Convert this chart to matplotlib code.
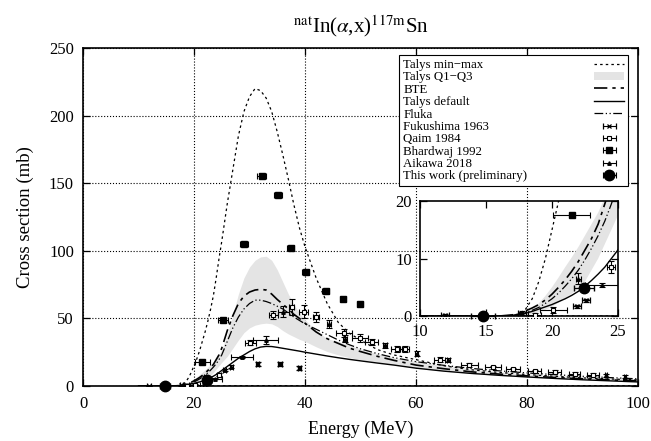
import numpy as np
import matplotlib
matplotlib.use('Agg')
import matplotlib.pyplot as plt
from matplotlib.patches import Patch
from matplotlib.lines import Line2D

plt.rcParams['font.family'] = 'serif'
plt.rcParams['font.serif'] = ['Liberation Serif', 'DejaVu Serif']
plt.rcParams['mathtext.fontset'] = 'stix'
for a in ('xtick', 'ytick'):
    plt.rcParams[a + '.direction'] = 'in'
    plt.rcParams[a + '.major.size'] = 5
    plt.rcParams[a + '.major.width'] = 0.9
    plt.rcParams[a + '.labelsize'] = 12
plt.rcParams['xtick.major.pad'] = 7.5
plt.rcParams['ytick.major.pad'] = 6.5
plt.rcParams['xtick.top'] = True
plt.rcParams['ytick.right'] = True

# ---- model curves (shared energy grid, MeV) ----
energy = [10, 15, 16, 17, 17.5, 18, 18.5, 19, 19.5, 20,
          20.5, 21, 21.5, 22, 22.5, 23, 23.5, 24, 24.5, 25,
          26, 27, 28, 29, 30, 31, 32, 33, 34, 35,
          36, 37, 38, 39, 40, 42, 44, 46, 48, 50,
          53, 56, 60, 65, 70, 75, 80, 85, 90, 95, 100]

talys_max = [0, 0, 0, 0.1, 0.4, 1.2, 3, 6, 10, 15,
             20, 26, 33, 40, 48, 57, 67, 80, 94, 107,
             135, 160, 185, 203, 214, 220, 218.5, 213, 203, 188,
             171, 153, 134, 117, 103, 80, 61, 47, 39, 34,
             27, 23, 19.5, 15, 12, 10, 8.5, 7.2, 6, 5.2, 4.5]

talys_min = [0, 0, 0, 0, 0, 0, 0, 0, 0, 0,
             0, 0, 0, 0, 0, 0, 0, 0, 0, 0.1,
             0.1, 0.1, 0.2, 0.2, 0.2, 0.2, 0.2, 0.2, 0.2, 0.2,
             0.2, 0.2, 0.2, 0.2, 0.2, 0.2, 0.2, 0.2, 0.2, 0.2,
             0.2, 0.2, 0.1, 0.1, 0.1, 0.1, 0.1, 0.1, 0.1, 0.1, 0.1]

talys_q1 = [0, 0, 0, 0, 0.1, 0.2, 0.4, 0.7, 1.1, 1.6,
            2.3, 3.1, 3.9, 4.7, 6, 8, 10, 12.5, 15, 17.5,
            22, 28, 34, 39.5, 43, 45, 46, 46.5, 46, 44,
            41, 38.5, 36.5, 34.5, 33, 29, 25.5, 23, 21, 19.5,
            17.5, 15.5, 13.5, 11.2, 9.3, 7.8, 6.5, 5.5, 4.7, 4, 3.5]

talys_q3 = [0, 0, 0, 0.1, 0.3, 0.6, 1.2, 2.2, 3.5, 5,
            6.7, 8.5, 10.2, 12, 14, 16, 18, 20.5, 23, 27,
            38, 53, 68, 80, 88, 93, 95.5, 96, 93, 86,
            77, 68, 60, 54, 49, 41, 35, 33, 30, 27.5,
            24, 21, 18, 15, 12.5, 10.5, 9, 7.8, 6.8, 6, 5.3]

bte = [0, 0, 0, 0.2, 0.5, 0.9, 1.4, 2, 2.8, 3.8,
       5, 6.3, 7.8, 9.5, 11.5, 13.5, 16, 19.5, 23, 28,
       41, 52, 61, 66.5, 69.5, 71, 71.5, 71, 68, 64,
       60.5, 57, 53, 50, 46.5, 40, 35, 31.5, 28, 25.5,
       22, 19, 15.5, 12.8, 10.5, 8.8, 7.5, 6.3, 5.3, 4.5, 3.8]

talys_default = [0, 0, 0, 0.1, 0.25, 0.5, 0.8, 1.2, 1.6, 2,
                 2.5, 3, 3.6, 4.3, 5.2, 6.2, 7.3, 8.5, 10, 11.5,
                 14.5, 17.5, 20.5, 23, 25.5, 27.5, 28.8, 29.3, 29.2, 28.6,
                 27.9, 27.2, 26.5, 25.8, 25, 23.6, 22.2, 20.9, 19.7, 18.6,
                 17, 15.5, 13.2, 11, 9.3, 7.9, 6.7, 5.6, 4.6, 3.8, 3]

fluka = [0, 0, 0, 0.1, 0.3, 0.6, 1, 1.5, 2.2, 3,
         4, 5.2, 6.5, 8, 9.8, 11.8, 14, 16.5, 19.5, 23,
         33, 43, 51, 57, 61, 63.5, 63.5, 62.5, 61, 59,
         57, 54, 51, 48.5, 46, 42, 38, 34, 30.5, 27.5,
         24, 21, 18, 15.3, 13, 11.2, 9.7, 8.4, 7.2, 6.2, 5.3]

# ---- experimental data ----
fuku_x = [11.9, 17.7, 21.9, 22.6, 31.5, 35.5, 39.0]
fuku_y = [0.1, 0.5, 1.7, 2.7, 16.5, 16.0, 13.0]
fuku_xerr = [0.3, 0.3, 0.3, 0.3, 0.3, 0.3, 0.3]
fuku_yerr = [0.2, 0.3, 0.3, 0.3, 1.5, 1.5, 1.5]

qaim_x = [18.7, 20.1, 24.5, 30.1, 34.3, 37.6, 39.8, 42.0, 47.0, 49.9, 52.0,
          56.5, 58.0, 64.3, 69.6, 73.9, 77.5, 81.4, 85.0, 88.6, 91.9]
qaim_y = [0.2, 1.0, 8.5, 32.0, 52.5, 58.5, 55.0, 51.0, 39.0, 35.3, 32.5,
          27.5, 27.5, 19.5, 15.5, 13.8, 12.3, 10.8, 10.6, 9.2, 8.4]
qaim_xerr = [0.5, 1.0, 0.3, 1.0, 0.8, 0.5, 0.8, 0.5, 1.5, 1.5, 1.2,
             1.0, 0.8, 1.0, 1.5, 1.5, 1.2, 1.2, 1.2, 1.0, 1.0]
qaim_yerr = [0.3, 0.5, 1.0, 2.0, 3.0, 6.0, 5.0, 4.0, 3.0, 3.0, 2.5,
             2.0, 2.0, 2.0, 1.5, 1.2, 1.0, 1.0, 1.0, 1.0, 1.0]

bhar_x = [21.5, 25.3, 29.0, 32.2, 35.2, 37.4, 40.1, 43.7, 46.9, 50.0]
bhar_y = [17.6, 48.8, 105.0, 155.5, 141.0, 101.8, 84.0, 70.3, 64.0, 60.6]
bhar_xerr = [1.4, 0.9, 0.8, 0.8, 0.7, 0.6, 0.6, 0.6, 0.5, 0.5]

aik_x = [22.0, 23.8, 25.5, 26.7, 28.6, 32.9, 36.1, 44.3, 47.2, 54.4, 60.1, 65.8, 94.3, 97.7]
aik_y = [6.5, 5.4, 11.8, 14.3, 21.5, 34.0, 55.0, 46.0, 35.0, 30.0, 24.0, 19.0, 8.0, 7.0]
aik_xerr = [0.2, 1.3, 0.3, 0.3, 2.0, 2.2, 1.0, 0.4, 0.4, 0.3, 0.3, 0.3, 0.2, 0.2]
aik_yerr = [1.0, 0.4, 1.0, 1.0, 1.0, 3.0, 4.0, 3.0, 2.5, 2.0, 2.0, 1.5, 1.0, 1.0]

tw_x = [14.8, 22.4]
tw_y = [0.0, 4.8]
tw_xerr = [0.9, 0.75]
tw_yerr = [0.1, 0.4]

band_color = '#e4e4e4'
ls_minmax = (0, (2, 2.5))
ls_bte = (0, (8, 3, 2, 3))
ls_fluka = (0, (7, 2, 1, 2, 1, 2))


def draw(ax):
    ax.fill_between(energy, talys_q1, talys_q3, color=band_color, lw=0, zorder=1)
    ax.plot(energy, talys_max, color='black', lw=0.9, ls=ls_minmax, zorder=2)
    ax.plot(energy, talys_min, color='black', lw=0.9, ls=ls_minmax, zorder=2)
    ax.plot(energy, bte, color='black', lw=1.2, ls=ls_bte, zorder=2)
    ax.plot(energy, talys_default, color='black', lw=1.0, zorder=2)
    ax.plot(energy, fluka, color='black', lw=0.9, ls=ls_fluka, zorder=2)
    eb = dict(color='black', elinewidth=0.8, capsize=2.2, capthick=0.8, zorder=3)
    ax.errorbar(fuku_x, fuku_y, xerr=fuku_xerr, yerr=fuku_yerr, fmt='x', ms=3.5, mew=0.9, **eb)
    ax.errorbar(qaim_x, qaim_y, xerr=qaim_xerr, yerr=qaim_yerr, fmt='s', ms=3.5,
                mfc='white', mew=0.8, **eb)
    ax.errorbar(bhar_x, bhar_y, xerr=bhar_xerr, fmt='s', ms=4, **eb)
    ax.errorbar(aik_x, aik_y, xerr=aik_xerr, yerr=aik_yerr, fmt='^', ms=2.5, **eb)
    ax.errorbar(tw_x, tw_y, xerr=tw_xerr, yerr=tw_yerr, fmt='o', ms=7.5,
                color='black', elinewidth=0.9, capsize=2.2, zorder=4, clip_on=False)


fig = plt.figure(figsize=(6.51, 4.41), dpi=100)
ax = fig.add_axes([0.1275, 0.1247, 0.8525, 0.7664])
draw(ax)
ax.set_xlim(0, 100)
ax.set_ylim(0, 250)
ax.set_xticks([0, 20, 40, 60, 80, 100])
ax.set_yticks([0, 50, 100, 150, 200, 250])
ax.set_axisbelow(True)
ax.grid(True, which='major', color='black', linewidth=0.8, linestyle=':')
for s in ax.spines.values():
    s.set_linewidth(1.2)
ax.set_xlabel('Energy (MeV)', fontsize=13, labelpad=6)
ax.set_ylabel('Cross section (mb)', fontsize=13.5, labelpad=11)
ax.set_title(r'$^{\mathrm{nat}}$In($\alpha$,x)$^{\mathrm{117m}}$Sn', fontsize=15, pad=11)

# legend proxies
eb_leg = dict(color='black', elinewidth=0.8, capsize=2.2, capthick=0.8)
handles = [
    Line2D([], [], color='black', lw=0.9, ls=ls_minmax),
    Patch(facecolor=band_color, edgecolor='none'),
    Line2D([], [], color='black', lw=1.2, ls=ls_bte),
    Line2D([], [], color='black', lw=1.0),
    Line2D([], [], color='black', lw=0.9, ls=ls_fluka),
    ax.errorbar([np.nan], [np.nan], xerr=[1], fmt='x', ms=3.5, mew=0.9, **eb_leg),
    ax.errorbar([np.nan], [np.nan], xerr=[1], fmt='s', ms=3.5, mfc='white', mew=0.8, **eb_leg),
    ax.errorbar([np.nan], [np.nan], xerr=[1], fmt='s', ms=4, **eb_leg),
    ax.errorbar([np.nan], [np.nan], xerr=[1], fmt='^', ms=2.5, **eb_leg),
    ax.errorbar([np.nan], [np.nan], xerr=[1], fmt='o', ms=7.5, **eb_leg),
]
labels = ['Talys min\u2212max', 'Talys Q1\u2212Q3', 'BTE', 'Talys default', 'Fluka',
          'Fukushima 1963', 'Qaim 1984', 'Bhardwaj 1992', 'Aikawa 2018',
          'This work (preliminary)']
leg = ax.legend(handles, labels, loc='upper right', bbox_to_anchor=(0.982, 0.979),
                borderaxespad=0, markerfirst=False, fontsize=9.3, handlelength=2.3,
                handleheight=0.6, labelspacing=0.03, borderpad=0.3,
                fancybox=False, framealpha=1, edgecolor='black')
leg.get_frame().set_linewidth(0.8)
# stretch rows so text sits left and samples right
for col in leg._legend_handle_box.get_children():
    col.width = 221
    for item in col.get_children():
        item.mode = 'expand'

# inset
axi = fig.add_axes([0.6452, 0.2834, 0.3041, 0.2608])
axi.patch.set_alpha(0)
draw(axi)
axi.set_xlim(10, 25)
axi.set_ylim(0, 20)
axi.set_xticks([10, 15, 20, 25])
axi.set_yticks([0, 10, 20])
axi.tick_params(axis='x', pad=6)
axi.tick_params(axis='y', pad=6)
for s in axi.spines.values():
    s.set_linewidth(1.2)

fig.savefig('out.png', dpi=100)
